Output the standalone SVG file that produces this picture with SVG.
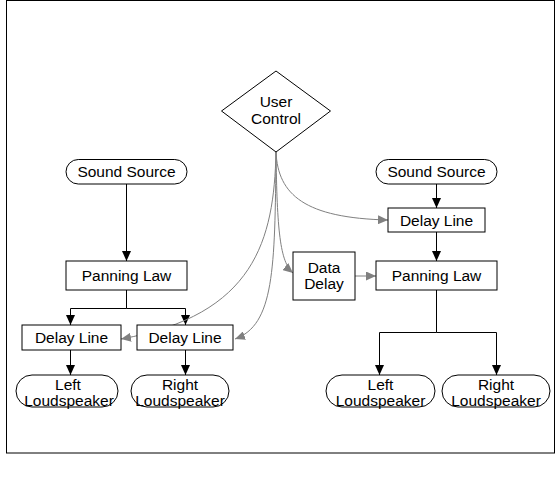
<svg xmlns="http://www.w3.org/2000/svg" width="555" height="481" viewBox="0 0 555 481">
<defs>
<style>
.box{fill:#fff;stroke:#000;stroke-width:1}
.t{font-family:"Liberation Sans",Arial,sans-serif;font-size:15.5px;fill:#000;text-anchor:middle}
.bl{fill:none;stroke:#000;stroke-width:1}
.gl{fill:none;stroke:#808080;stroke-width:1}
</style>
<marker id="ab" markerUnits="userSpaceOnUse" markerWidth="10" markerHeight="9" refX="10" refY="4.5" orient="auto" viewBox="0 0 10 9"><path d="M0,0 L10,4.5 L0,9 z" fill="#000"/></marker>
<marker id="ag" markerUnits="userSpaceOnUse" markerWidth="10" markerHeight="9" refX="10" refY="4.5" orient="auto" viewBox="0 0 10 9"><path d="M0,0 L10,4.5 L0,9 z" fill="#808080"/></marker>
</defs>
<rect x="6.5" y="0.5" width="548" height="452.5" fill="#fff" stroke="#000" stroke-width="1"/>
<g id="connectors">
<path class="bl" d="M126.5,184 V261" marker-end="url(#ab)"/>
<path class="bl" d="M126.5,290 V308.5 H70.5 V325" marker-end="url(#ab)"/>
<path class="bl" d="M126.5,308.5 H185.5 V325" marker-end="url(#ab)"/>
<path class="bl" d="M70.5,350 V375" marker-end="url(#ab)"/>
<path class="bl" d="M185.5,350 V375" marker-end="url(#ab)"/>
<path class="bl" d="M436.5,184 V208" marker-end="url(#ab)"/>
<path class="bl" d="M436.5,232 V261" marker-end="url(#ab)"/>
<path class="bl" d="M436.5,290 V332.5 H379.5 V375" marker-end="url(#ab)"/>
<path class="bl" d="M436.5,332.5 H496.5 V375" marker-end="url(#ab)"/>
<path class="gl" d="M355,276 H376" marker-end="url(#ag)"/>
<path class="gl" d="M276,152 C278,195 305,218 388,220" marker-end="url(#ag)"/>
<path class="gl" d="M276,152 C277,230 280,262 293,273" marker-end="url(#ag)"/>
<path class="gl" d="M276,152 C274,240 255,315 121,339" marker-end="url(#ag)"/>
<path class="gl" d="M276,152 C275,270 274,325 235,339" marker-end="url(#ag)"/>
</g>
<g id="user-control">
<polygon class="box" points="276,71 330.5,111 276,152 221.5,111"/>
<text class="t" x="276" y="107">User</text>
<text class="t" x="276" y="124">Control</text>
</g>
<g id="sound-source-left">
<rect class="box" x="66" y="159.5" width="121" height="24.5" rx="12.25"/>
<text class="t" x="126.5" y="177">Sound Source</text>
</g>
<g id="panning-law-left">
<rect class="box" x="66" y="261" width="121" height="29"/>
<text class="t" x="126.5" y="281">Panning Law</text>
</g>
<g id="delay-line-left-1">
<rect class="box" x="22" y="325" width="99" height="25"/>
<text class="t" x="71.5" y="343">Delay Line</text>
</g>
<g id="delay-line-left-2">
<rect class="box" x="137" y="325" width="96" height="25"/>
<text class="t" x="185" y="343">Delay Line</text>
</g>
<g id="left-loudspeaker-1">
<rect class="box" x="16" y="375" width="102" height="32" rx="16"/>
<text class="t" x="68" y="390">Left</text>
<text class="t" x="69" y="405.5">Loudspeaker</text>
</g>
<g id="right-loudspeaker-1">
<rect class="box" x="131" y="375" width="98" height="32" rx="16"/>
<text class="t" x="180" y="390">Right</text>
<text class="t" x="180" y="405.5">Loudspeaker</text>
</g>
<g id="sound-source-right">
<rect class="box" x="376" y="159.5" width="121" height="24.5" rx="12.25"/>
<text class="t" x="436.5" y="177">Sound Source</text>
</g>
<g id="delay-line-right">
<rect class="box" x="388" y="208" width="97" height="24"/>
<text class="t" x="436.5" y="225.5">Delay Line</text>
</g>
<g id="data-delay">
<rect class="box" x="293" y="252" width="62" height="48"/>
<text class="t" x="324" y="272.5">Data</text>
<text class="t" x="324" y="289">Delay</text>
</g>
<g id="panning-law-right">
<rect class="box" x="376" y="261" width="121" height="29"/>
<text class="t" x="436.5" y="281">Panning Law</text>
</g>
<g id="left-loudspeaker-2">
<rect class="box" x="326" y="375" width="109" height="32" rx="16"/>
<text class="t" x="380.5" y="390">Left</text>
<text class="t" x="380.5" y="405.5">Loudspeaker</text>
</g>
<g id="right-loudspeaker-2">
<rect class="box" x="442" y="375" width="108" height="32" rx="16"/>
<text class="t" x="496" y="390">Right</text>
<text class="t" x="496" y="405.5">Loudspeaker</text>
</g>
</svg>
